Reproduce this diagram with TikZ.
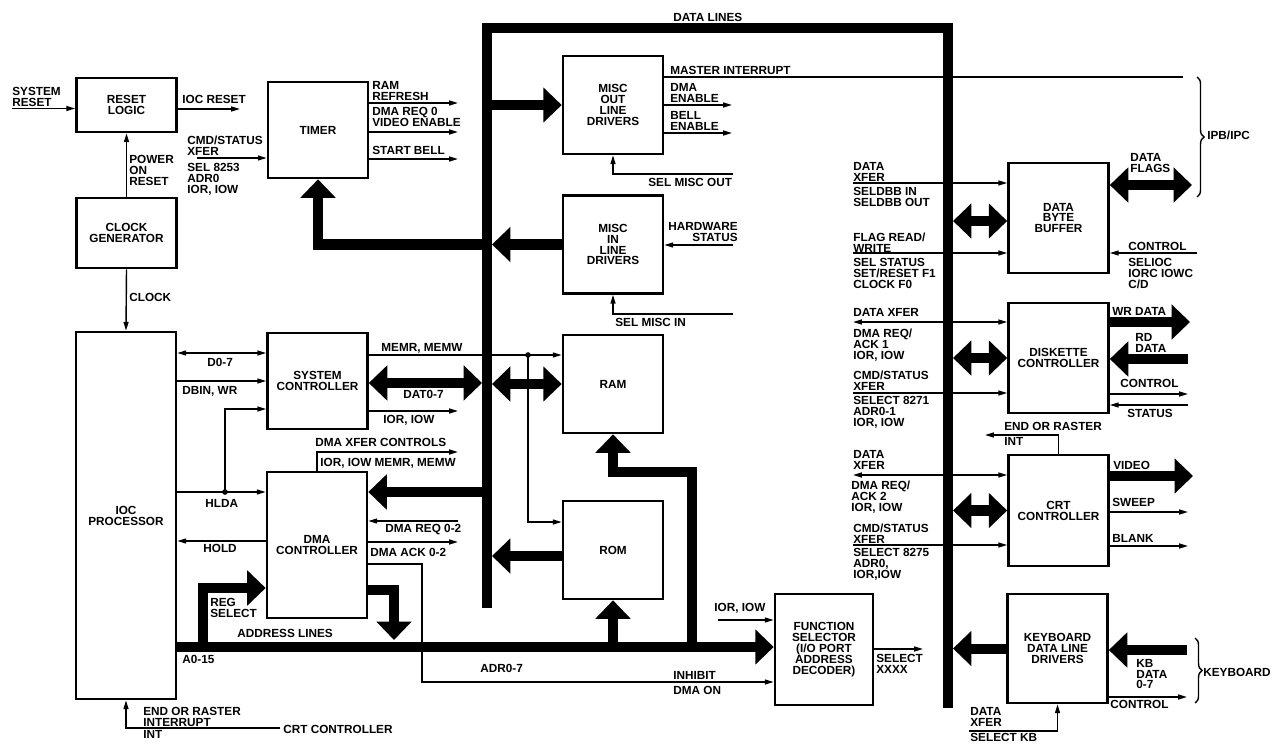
\documentclass[tikz,border=0pt]{standalone}
\usepackage{fontspec}
\setmainfont{Liberation Sans}
\usepackage{tikz}
\usetikzlibrary{arrows.meta,positioning,decorations.pathreplacing}
\tikzset{
  blk/.style={draw, line width=1.5pt, minimum width=2cm, minimum height=1.96cm, align=center, inner sep=1pt, font=\bfseries\fontsize{6.7}{6.2}\selectfont},
  lbl/.style={inner sep=0pt, align=left, anchor=north west, font=\bfseries\fontsize{6.7}{6.1}\selectfont},
  wire/.style={line width=0.8pt},
  sig/.style={wire, -{Triangle[length=5pt,width=2.8pt]}},
  sigboth/.style={wire, {Triangle[length=5pt,width=2.8pt]}-{Triangle[length=5pt,width=2.8pt]}},
  bus/.style={line width=5.7pt},
  fat/.style={bus, -{Triangle[length=10.5pt,width=19.5pt]}},
  fatboth/.style={bus, {Triangle[length=10.5pt,width=19.5pt]}-{Triangle[length=10.5pt,width=19.5pt]}},
  brc/.style={wire, decorate, decoration={brace, amplitude=4pt}}
}

\begin{document}
\begin{tikzpicture}[x=0.02cm, y=-0.02cm]
    \useasboundingbox (0,0) rectangle (1273,743);
    % boxes
    \node[blk, minimum height=1.08cm] (reset) at (126.5,105) {RESET\\LOGIC};
    \node[blk, minimum height=1.4cm] (clockgen) at (126.5,233) {CLOCK\\GENERATOR};
    \node[blk, minimum height=7.34cm] (ioc) at (126,515.5) {IOC\\PROCESSOR};
    \node[blk, minimum height=1.92cm] (timer) at (318,130) {TIMER};
    \node[blk, minimum height=1.92cm] (sysctl) at (317.5,381) {SYSTEM\\CONTROLLER};
    \node[blk, minimum height=2.92cm] (dma) at (317,545) {DMA\\CONTROLLER};
    \node[blk] (miscout) at (613,105) {MISC\\OUT\\LINE\\DRIVERS};
    \node[blk] (miscin) at (613,244.5) {MISC\\IN\\LINE\\DRIVERS};
    \node[blk] (ram) at (613,384) {RAM};
    \node[blk] (rom) at (613,550) {ROM};
    \node[blk, minimum width=1.96cm, minimum height=2.22cm] (funcsel) at (824,649.5) {FUNCTION\\SELECTOR\\(I/O PORT\\ADDRESS\\DECODER)};
    \node[blk, minimum height=2.2cm] (dbb) at (1058.5,218) {DATA\\BYTE\\BUFFER};
    \node[blk, minimum height=2.2cm] (disk) at (1058.5,358) {DISKETTE\\CONTROLLER};
    \node[blk, minimum height=2.22cm] (crt) at (1058.5,510.5) {CRT\\CONTROLLER};
    \node[blk, minimum height=2.18cm] (kbd) at (1057.5,648.5) {KEYBOARD\\DATA LINE\\DRIVERS};

    % bus edges and free ends
    \coordinate (busL) at (487,28); \coordinate (busR) at (948,28);
    \coordinate (busLw) at (482,0); \coordinate (busLe) at (492,0); \coordinate (busRe) at (953,0);
    \coordinate (sysreset) at (12,108.5); \coordinate (iocreset) at (240,109);
    \coordinate (timerin) at (197,158);
    \coordinate (regsel) at (203,647); \coordinate (dmaadr) at (394,640); \coordinate (ramfeed) at (692,647);
    \coordinate (hlda) at (225,492); \coordinate (memdot) at (528,355);
    \coordinate (inhibit) at (422,682); \coordinate (crtint) at (280,728);
    \coordinate (fsin) at (718,620); \coordinate (select) at (923,649);
    \coordinate (master) at (1183,77);
    \coordinate (selmo) at (733,174); \coordinate (hwstat) at (733,245); \coordinate (selmi) at (733,314);
    \coordinate (dflags) at (1192,185); \coordinate (wrdata) at (1190,322); \coordinate (rddata) at (1188,359);
    \coordinate (video) at (1193,476); \coordinate (kbdata) at (1187,650);
    \coordinate (rasterint) at (985,435); \coordinate (selkb) at (969,731);

    % data and address lines
    \draw[bus] (487,608) -- (busL) -- (busR) -- (948,708);
    \draw[fat] (ioc.east |- 0,647) -- (funcsel.west |- 0,647);
    \draw[fat] (busL |- miscout.west) -- (miscout.west);
    \draw[fat] (miscin.west) -- (busLe |- miscin.west);
    \draw[fat] (busL |- miscin.west) -| (timer.south);
    \draw[fatboth] (sysctl.east |- 0,383) -- (busLw |- 0,383);
    \draw[fatboth] (busLe |- ram.west) -- (ram.west);
    \draw[fat] (busL |- 0,492) -- (dma.east |- 0,492);
    \draw[fat] (rom.west |- 0,556) -- (busLe |- 0,556);
    \draw[fat] (regsel) |- (dma.west |- 0,588);
    \draw[fat] (dma.east |- 0,590) -| (dmaadr);
    \draw[fat] (rom.south |- 0,647) -- (rom.south);
    \draw[fat] (ramfeed) |- (ram.south |- 0,472) -- (ram.south);
    \draw[fatboth] (busRe |- 0,221) -- (dbb.west |- 0,221);
    \draw[fatboth] (dbb.east |- dflags) -- (dflags);
    \draw[fatboth] (busRe |- disk.west) -- (disk.west);
    \draw[fat] (disk.east |- wrdata) -- (wrdata);
    \draw[fat] (rddata) -- (disk.east |- rddata);
    \draw[fatboth] (busRe |- crt.west) -- (crt.west);
    \draw[fat] (crt.east |- video) -- (video);
    \draw[fat] (kbd.west) -- (busRe |- kbd.west);
    \draw[fat] (kbdata) -- (kbd.east |- kbdata);

    % control lines
    \draw[sig] (sysreset) -- (reset.west |- sysreset);
    \draw[sig] (reset.east |- iocreset) -- (iocreset);
    \draw[sig] (clockgen.north) -- (reset.south);
    \draw[sig] (clockgen.south) -- (ioc.north);
    \draw[sig] (timerin) -- (timer.west |- timerin);
    \draw[sig] (timer.east |- 0,103) -- (458,103);
    \draw[sig] (timer.east |- 0,132) -- (458,132);
    \draw[sig] (timer.east |- 0,159) -- (458,159);
    \draw[wire] (miscout.east |- master) -- (master);
    \draw[sig] (miscout.east |- 0,105) -- (732,105);
    \draw[sig] (miscout.east |- 0,133) -- (732,133);
    \draw[sig] (selmo) -| (miscout.south);
    \draw[sig] (hwstat) -- (miscin.east |- hwstat);
    \draw[sig] (selmi) -| (miscin.south);
    \draw[sigboth] (ioc.east |- 0,353) -- (sysctl.west |- 0,353);
    \draw[sig] (ioc.east |- 0,381) -- (sysctl.west |- 0,381);
    \draw[sig] (ioc.east |- hlda) -- (dma.west |- hlda);
    \draw[sig] (hlda) |- (sysctl.west |- 0,409);
    \fill (hlda) circle (1.6pt);
    \draw[sig] (dma.west |- 0,541) -- (ioc.east |- 0,541);
    \draw[sig] (sysctl.east |- memdot) -- (ram.west |- memdot);
    \draw[sig] (memdot) |- (rom.west |- 0,522);
    \fill (memdot) circle (1.6pt);
    \draw[sig] (sysctl.east |- 0,411) -- (458,411);
    \draw[sig] (dma.north) |- (458,452);
    \draw[sig] (458,521) -- (dma.east |- 0,521);
    \draw[sig] (dma.east |- 0,542) -- (458,542);
    \draw[sig] (dma.east |- 0,564) -| (inhibit) -- (funcsel.west |- inhibit);
    \draw[sig] (fsin) -- (funcsel.west |- fsin);
    \draw[sig] (funcsel.east |- select) -- (select);
    \draw[sig] (crtint) -| (ioc.south);
    \draw[sig] (853,183) -- (dbb.west |- 0,183);
    \draw[sig] (853,253) -- (dbb.west |- 0,253);
    \draw[sig] (1197,253) -- (dbb.east |- 0,253);
    \draw[sigboth] (853,322) -- (disk.west |- 0,322);
    \draw[sig] (853,393) -- (disk.west |- 0,393);
    \draw[sig] (disk.east |- 0,394) -- (1188,394);
    \draw[sig] (1188,405) -- (disk.east |- 0,405);
    \draw[sig] (crt.north) |- (rasterint);
    \draw[sigboth] (853,475) -- (crt.west |- 0,475);
    \draw[sig] (853,545) -- (crt.west |- 0,545);
    \draw[sig] (crt.east |- 0,512) -- (1188,512);
    \draw[sig] (crt.east |- 0,546) -- (1188,546);
    \draw[sig] (kbd.east |- 0,697) -- (1187,697);
    \draw[sig] (selkb) -| (kbd.south);
    \draw[brc] (1197,77) -- (1197,197);
    \draw[brc] (1195,638) -- (1195,703);

    % labels
    \node[lbl] (l-sysreset) at (12,87) {SYSTEM\\RESET};
    \node[lbl] (l-iocreset) at (182,95) {IOC RESET};
    \node[lbl] (l-por) at (129,155) {POWER\\ON\\RESET};
    \node[lbl] (l-clock) at (129,293) {CLOCK};
    \node[lbl] (l-tcmd) at (187,136) {CMD/STATUS\\XFER};
    \node[lbl] (l-tsel) at (187,163) {SEL 8253\\ADR0\\IOR, IOW};
    \node[lbl] (l-ramref) at (372,81) {RAM\\REFRESH};
    \node[lbl] (l-video) at (372,107) {DMA REQ 0\\VIDEO ENABLE};
    \node[lbl] (l-bell) at (372,146) {START BELL};
    \node[lbl] (l-data) at (673,13) {DATA LINES};
    \node[lbl] (l-master) at (670,66) {MASTER INTERRUPT};
    \node[lbl] (l-dmaen) at (670,83) {DMA\\ENABLE};
    \node[lbl] (l-bellen) at (670,111) {BELL\\ENABLE};
    \node[lbl] (l-selmo) at (648,178) {SEL MISC OUT};
    \node[lbl, anchor=north east, align=right] (l-hw) at (738,222) {HARDWARE\\STATUS};
    \node[lbl] (l-selmi) at (615,318) {SEL MISC IN};
    \node[lbl] (l-d07) at (207,358) {D0-7};
    \node[lbl] (l-dbin) at (182,386) {DBIN, WR};
    \node[lbl] (l-memrw) at (381,343) {MEMR, MEMW};
    \node[lbl] (l-dat) at (403,390) {DAT0-7};
    \node[lbl] (l-iorw) at (383,415) {IOR, IOW};
    \node[lbl] (l-xferc) at (315,438) {DMA XFER CONTROLS};
    \node[lbl] (l-xferl) at (320,458) {IOR, IOW MEMR, MEMW};
    \node[lbl] (l-hlda) at (205,499) {HLDA};
    \node[lbl] (l-hold) at (203,544) {HOLD};
    \node[lbl] (l-dmareq) at (385,524) {DMA REQ 0-2};
    \node[lbl] (l-dmaack) at (370,548) {DMA ACK 0-2};
    \node[lbl] (l-regsel) at (210,598) {REG\\SELECT};
    \node[lbl] (l-addr) at (237,629) {ADDRESS LINES};
    \node[lbl] (l-a015) at (182,655) {A0-15};
    \node[lbl] (l-adr07) at (480,664) {ADR0-7};
    \node[lbl] (l-inhibit) at (673,671) {INHIBIT};
    \node[lbl] (l-dmaon) at (673,686) {DMA ON};
    \node[lbl] (l-fsin) at (714,603) {IOR, IOW};
    \node[lbl] (l-select) at (876,654) {SELECT\\XXXX};
    \node[lbl] (l-raster) at (143,707) {END OR RASTER\\INTERRUPT};
    \node[lbl] (l-int) at (143,730) {INT};
    \node[lbl, anchor=west] (l-crt) at (283,729) {CRT CONTROLLER};
    \node[lbl] (l-dbbx) at (853,162) {DATA\\XFER};
    \node[lbl] (l-dbbsel) at (853,187) {SELDBB IN\\SELDBB OUT};
    \node[lbl] (l-flag) at (853,233) {FLAG READ/\\WRITE};
    \node[lbl] (l-flagsel) at (853,258) {SEL STATUS\\SET/RESET F1\\CLOCK F0};
    \node[lbl] (l-dflags) at (1130,153) {DATA\\FLAGS};
    \node[lbl] (l-dbbctl) at (1128,242) {CONTROL};
    \node[lbl] (l-selioc) at (1128,258) {SELIOC\\IORC IOWC\\C/D};
    \node[lbl, anchor=west] (l-ipb) at (1207,135) {IPB/IPC};
    \node[lbl] (l-dskx) at (853,308) {DATA XFER};
    \node[lbl] (l-dskreq) at (853,329) {DMA REQ/\\ACK 1\\IOR, IOW};
    \node[lbl] (l-dskcmd) at (853,371) {CMD/STATUS\\XFER};
    \node[lbl] (l-dsksel) at (853,396) {SELECT 8271\\ADR0-1\\IOR, IOW};
    \node[lbl] (l-wr) at (1112,307) {WR DATA};
    \node[lbl] (l-rd) at (1135,333) {RD\\DATA};
    \node[lbl] (l-dskctl) at (1120,379) {CONTROL};
    \node[lbl] (l-dskst) at (1127,409) {STATUS};
    \node[lbl] (l-rint) at (1004,422) {END OR RASTER};
    \node[lbl] (l-rint2) at (1004,437) {INT};
    \node[lbl] (l-crtx) at (853,450) {DATA\\XFER};
    \node[lbl] (l-crtreq) at (851,481) {DMA REQ/\\ACK 2\\IOR, IOW};
    \node[lbl] (l-crtcmd) at (853,524) {CMD/STATUS\\XFER};
    \node[lbl] (l-crtsel) at (853,548) {SELECT 8275\\ADR0,\\IOR,IOW};
    \node[lbl] (l-video2) at (1113,461) {VIDEO};
    \node[lbl] (l-sweep) at (1112,498) {SWEEP};
    \node[lbl] (l-blank) at (1112,534) {BLANK};
    \node[lbl] (l-kbd) at (1136,659) {KB\\DATA\\0-7};
    \node[lbl] (l-kbctl) at (1110,700) {CONTROL};
    \node[lbl, anchor=west] (l-keyb) at (1203,672) {KEYBOARD};
    \node[lbl] (l-kbx) at (970,707) {DATA\\XFER};
    \node[lbl] (l-selkb) at (970,733) {SELECT KB};
\end{tikzpicture}
\end{document}
